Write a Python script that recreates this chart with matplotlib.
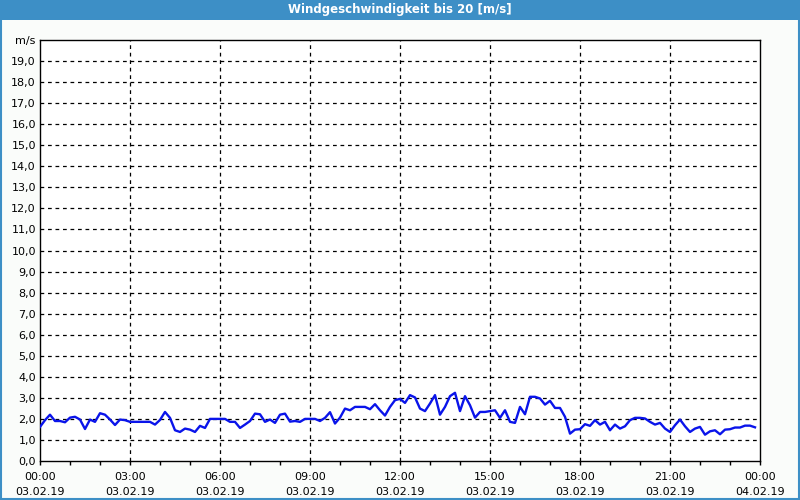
import matplotlib
matplotlib.use("Agg")
import matplotlib.pyplot as plt
import matplotlib.patches as mpatches
import numpy as np

# wind speed, 10 minute steps from 03.02.19 00:00 to 23:50
windSpeed = [
    1.62, 1.94, 2.20, 1.90, 1.90, 1.84, 2.06, 2.10, 1.97, 1.52, 1.97, 1.86,
    2.27, 2.20, 1.97, 1.71, 1.97, 1.94, 1.86, 1.86, 1.86, 1.86, 1.86, 1.73,
    1.95, 2.33, 2.05, 1.46, 1.38, 1.54, 1.49, 1.38, 1.67, 1.57, 2.00, 2.00,
    2.00, 2.00, 1.86, 1.86, 1.57, 1.73, 1.90, 2.25, 2.22, 1.86, 1.97, 1.81,
    2.20, 2.25, 1.87, 1.90, 1.86, 2.00, 2.00, 2.00, 1.90, 2.05, 2.32, 1.78,
    2.06, 2.49, 2.41, 2.57, 2.57, 2.57, 2.46, 2.70, 2.41, 2.16, 2.57, 2.89,
    2.95, 2.76, 3.13, 3.02, 2.49, 2.37, 2.73, 3.13, 2.20, 2.57, 3.08, 3.24,
    2.37, 3.08, 2.65, 2.06, 2.33, 2.33, 2.37, 2.41, 2.05, 2.41, 1.86, 1.81,
    2.57, 2.22, 3.05, 3.05, 2.97, 2.68, 2.86, 2.52, 2.52, 2.10, 1.30, 1.49,
    1.51, 1.75, 1.67, 1.94, 1.73, 1.86, 1.46, 1.73, 1.54, 1.65, 1.94, 2.05,
    2.05, 2.02, 1.86, 1.73, 1.81, 1.54, 1.38, 1.70, 1.97, 1.65, 1.38, 1.54,
    1.62, 1.25, 1.41, 1.46, 1.27, 1.49, 1.51, 1.59, 1.59, 1.68, 1.68, 1.60,
]
hours = np.arange(len(windSpeed)) / 6.0

timeLabels = ["00:00", "03:00", "06:00", "09:00", "12:00", "15:00", "18:00", "21:00", "00:00"]
dateLabels = ["03.02.19"] * 8 + ["04.02.19"]
majorHours = [0, 3, 6, 9, 12, 15, 18, 21, 24]

yTicks = list(range(0, 21))
yLabels = [("%d,0" % v) for v in yTicks[:-1]] + ["m/s"]

title = "Windgeschwindigkeit bis 20 [m/s]"

blue = "#3d8fc6"
bg = "#fafcfa"

plt.rcParams['font.family'] = ['DejaVu Sans']

fig = plt.figure(figsize=(8, 5), dpi=100, facecolor=bg)

# title bar and frame
fig.patches.append(mpatches.Rectangle((0, 0.96), 1, 0.04, transform=fig.transFigure,
                                      facecolor=blue, edgecolor='none', zorder=0))
fig.patches.append(mpatches.Rectangle((0.001, 0.002), 0.998, 0.996, transform=fig.transFigure,
                                      facecolor='none', edgecolor=blue, linewidth=1.5, zorder=1))
fig.text(0.5, 0.98, title, color='white', fontsize=8.5, fontweight='bold',
         ha='center', va='center')

ax = fig.add_axes([0.05, 0.078, 0.90, 0.842])
ax.set_facecolor('white')
ax.plot(hours, windSpeed, color='#0a14ea', linewidth=1.7, zorder=3)

ax.set_xlim(0, 24)
ax.set_ylim(0, 20)

ax.set_yticks(yTicks)
ax.set_yticklabels(yLabels, fontsize=8)
ax.tick_params(axis='y', length=0, pad=3)

ax.set_xticks(majorHours)
ax.set_xticklabels([t + "\n" + d for t, d in zip(timeLabels, dateLabels)],
                   fontsize=8, linespacing=1.55)
ax.set_xticks(range(0, 25), minor=True)
ax.tick_params(axis='x', which='both', direction='out', length=3, width=1, pad=5)

for v in yTicks[1:-1]:
    ax.axhline(v, color='black', linestyle=(0, (3, 3)), linewidth=0.9, zorder=1)
for h in majorHours[1:-1]:
    ax.axvline(h, color='black', linestyle=(0, (3, 3)), linewidth=0.9, zorder=1)

for s in ax.spines.values():
    s.set_color('black')
    s.set_linewidth(1)

fig.savefig("out.png", dpi=100, facecolor=bg)
